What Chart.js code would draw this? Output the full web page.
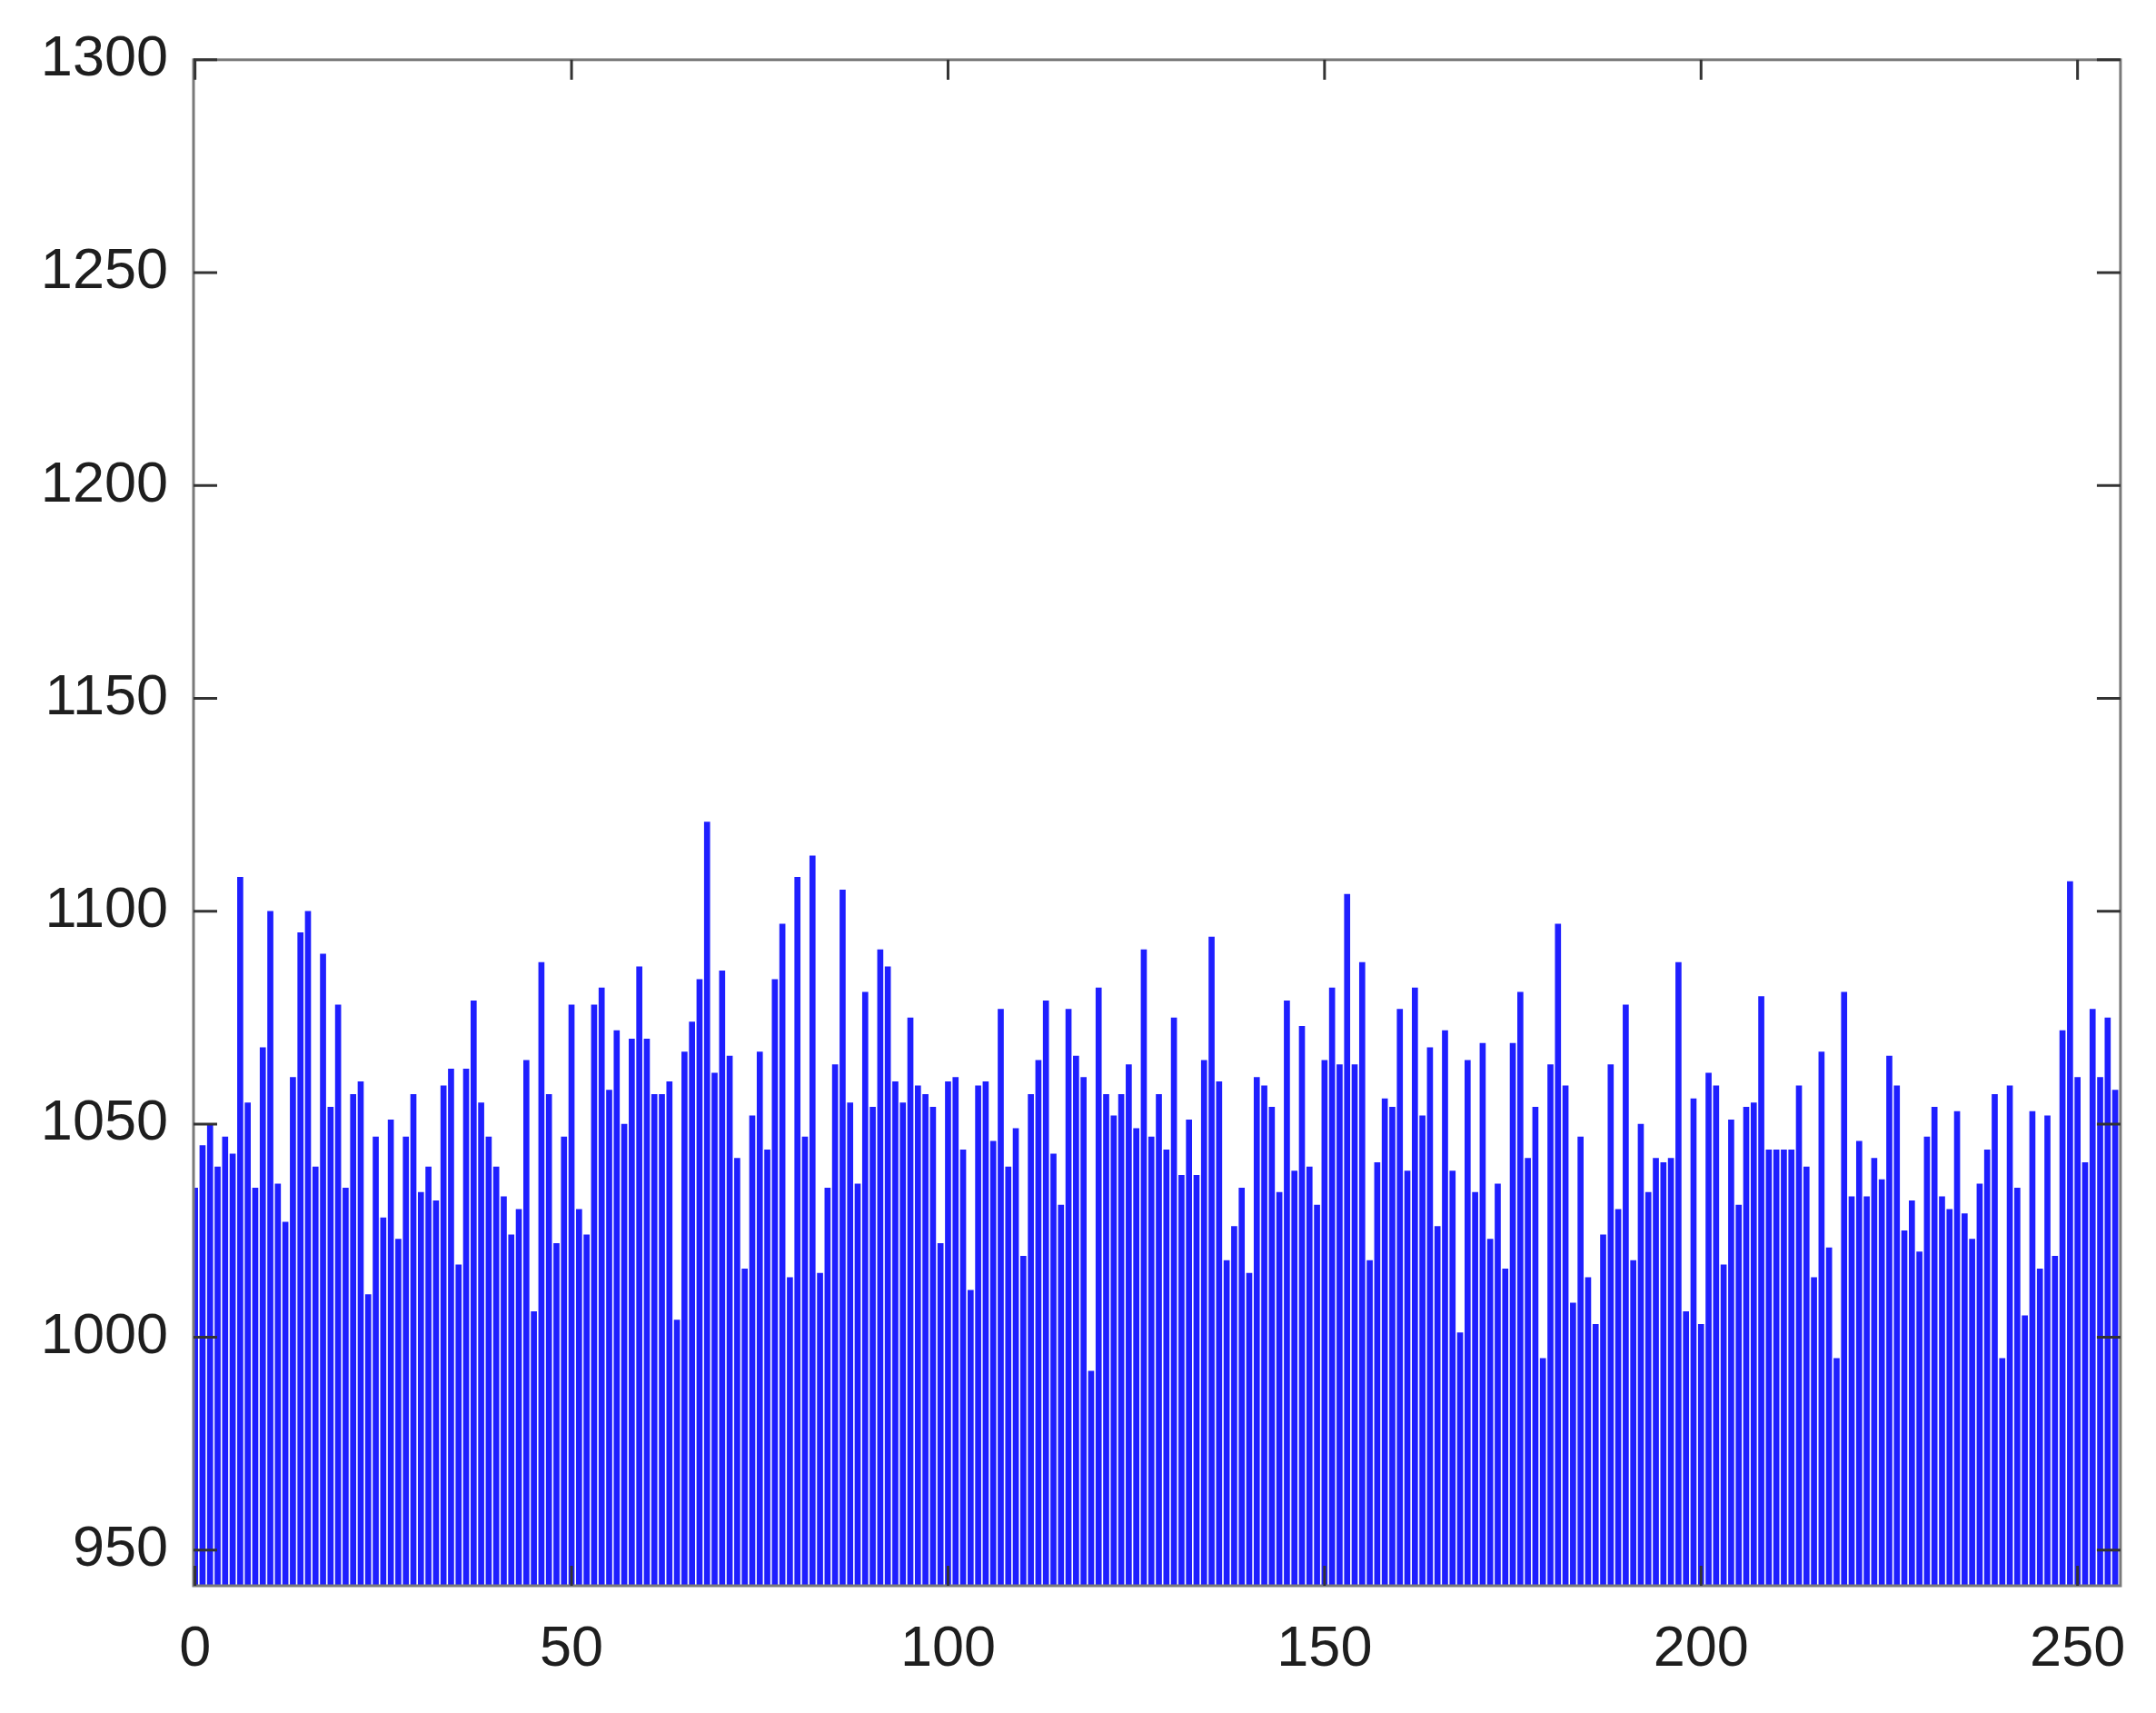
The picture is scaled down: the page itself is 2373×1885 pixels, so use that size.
<!DOCTYPE html>
<html>
<head>
<meta charset="utf-8">
<script src="https://cdn.jsdelivr.net/npm/chart.js@4.4.1/dist/chart.umd.min.js"></script>
<style>
  html, body { margin: 0; padding: 0; background: #fff; }
  #wrap { width: 2373px; height: 1885px; }
</style>
</head>
<body>
<div id="wrap"><canvas id="hist"></canvas></div>
<script>
// grey level counts, bins 0..255
const counts = [
  1035, 1045, 1050, 1040, 1047, 1043, 1108, 1055, 1035, 1068,
  1100, 1036, 1027, 1061, 1095, 1100, 1040, 1090, 1054, 1078,
  1035, 1057, 1060, 1010, 1047, 1028, 1051, 1023, 1047, 1057,
  1034, 1040, 1032, 1059, 1063, 1017, 1063, 1079, 1055, 1047,
  1040, 1033, 1024, 1030, 1065, 1006, 1088, 1057, 1022, 1047,
  1078, 1030, 1024, 1078, 1082, 1058, 1072, 1050, 1070, 1087,
  1070, 1057, 1057, 1060, 1004, 1067, 1074, 1084, 1121, 1062,
  1086, 1066, 1042, 1016, 1052, 1067, 1044, 1084, 1097, 1014,
  1108, 1047, 1113, 1015, 1035, 1064, 1105, 1055, 1036, 1081,
  1054, 1091, 1087, 1060, 1055, 1075, 1059, 1057, 1054, 1022,
  1060, 1061, 1044, 1011, 1059, 1060, 1046, 1077, 1040, 1049,
  1019, 1057, 1065, 1079, 1043, 1031, 1077, 1066, 1061, 992,
  1082, 1057, 1052, 1057, 1064, 1049, 1091, 1047, 1057, 1044,
  1075, 1038, 1051, 1038, 1065, 1094, 1060, 1018, 1026, 1035,
  1015, 1061, 1059, 1054, 1034, 1079, 1039, 1073, 1040, 1031,
  1065, 1082, 1064, 1104, 1064, 1088, 1018, 1041, 1056, 1054,
  1077, 1039, 1082, 1052, 1068, 1026, 1072, 1039, 1001, 1065,
  1034, 1069, 1023, 1036, 1016, 1069, 1081, 1042, 1054, 995,
  1064, 1097, 1059, 1008, 1047, 1014, 1003, 1024, 1064, 1030,
  1078, 1018, 1050, 1034, 1042, 1041, 1042, 1088, 1006, 1056,
  1003, 1062, 1059, 1017, 1051, 1031, 1054, 1055, 1080, 1044,
  1044, 1044, 1044, 1059, 1040, 1014, 1067, 1021, 995, 1081,
  1033, 1046, 1033, 1042, 1037, 1066, 1059, 1025, 1032, 1020,
  1047, 1054, 1033, 1030, 1053, 1029, 1023, 1036, 1044, 1057,
  995, 1059, 1035, 1005, 1053, 1016, 1052, 1019, 1072, 1107,
  1061, 1041, 1077, 1061, 1075, 1058
];
const bins = counts.map((_, i) => i);
const yTicks = [950, 1000, 1050, 1100, 1150, 1200, 1250, 1300];
const xTicks = [0, 50, 100, 150, 200, 250];

const labelFont = { family: "'Liberation Sans', Arial, sans-serif", size: 63 };
const textColor = "#1e1e1e";

// MATLAB style box with inward ticks on all four sides
const boxPlugin = {
  id: "box",
  afterDatasetsDraw(chart) {
    const { ctx, chartArea: a, scales } = chart;
    ctx.save();
    ctx.strokeStyle = "#7a7a7a";
    ctx.lineWidth = 3;
    ctx.strokeRect(a.left, a.top, a.right - a.left, a.bottom - a.top);

    ctx.strokeStyle = "#333";
    ctx.beginPath();
    yTicks.forEach((v) => {
      const y = scales.y.getPixelForValue(v);
      ctx.moveTo(a.left, y); ctx.lineTo(a.left + 26, y);
      ctx.moveTo(a.right, y); ctx.lineTo(a.right - 26, y);
    });
    xTicks.forEach((v) => {
      const x = scales.x.getPixelForValue(v);
      ctx.moveTo(x, a.bottom); ctx.lineTo(x, a.bottom - 22);
      ctx.moveTo(x, a.top); ctx.lineTo(x, a.top + 22);
    });
    ctx.stroke();
    ctx.restore();
  },
};

new Chart(document.getElementById("hist"), {
  type: "bar",
  data: {
    datasets: [{
      data: bins.map((b, i) => ({ x: b, y: counts[i] })),
      backgroundColor: "#1f1fff",
      borderWidth: 0,
      barThickness: 6,
    }],
  },
  options: {
    responsive: true,
    maintainAspectRatio: false,
    animation: false,
    layout: { padding: { left: 0, right: 35, top: 65, bottom: 0 } },
    plugins: { legend: { display: false }, tooltip: { enabled: false } },
    scales: {
      x: {
        type: "linear",
        offset: false,
        min: -0.2,
        max: 255.7,
        grid: { display: false, drawTicks: false },
        border: { display: false },
        afterBuildTicks: (s) => { s.ticks = xTicks.map((v) => ({ value: v })); },
        afterFit: (s) => { s.height = 140; },
        ticks: { font: labelFont, color: textColor, padding: 33, maxRotation: 0, callback: (v) => String(v) },
      },
      y: {
        min: 941.6,
        max: 1300,
        grid: { display: false, drawTicks: false },
        border: { display: false },
        afterBuildTicks: (s) => { s.ticks = yTicks.map((v) => ({ value: v })); },
        afterFit: (s) => { s.width = 213; },
        ticks: { font: labelFont, color: textColor, padding: 28, callback: (v) => String(v) },
      },
    },
  },
  plugins: [boxPlugin],
});
</script>
</body>
</html>
